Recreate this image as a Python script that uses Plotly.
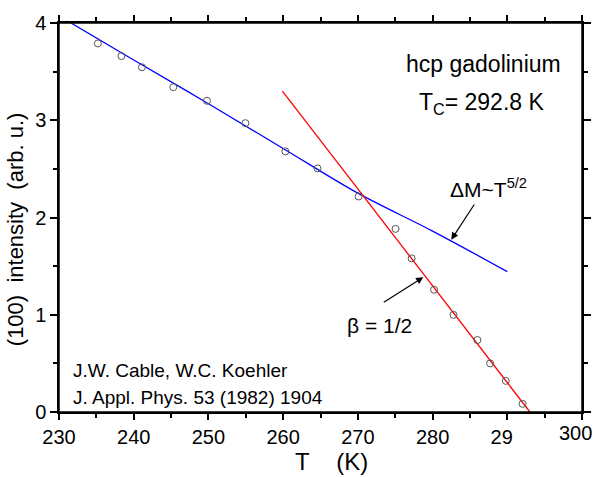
import plotly.graph_objects as go

# ---- data ----
T_data = [235.2, 238.35, 241.1, 245.3, 249.8, 254.95, 260.3, 264.6, 270.1,
          275.05, 277.2, 280.2, 282.8, 286.0, 287.7, 289.8, 292.05]
I_data = [3.79, 3.66, 3.545, 3.34, 3.20, 2.97, 2.68, 2.505, 2.216,
          1.883, 1.58, 1.257, 0.999, 0.74, 0.50, 0.32, 0.084]

T_blue = [231.6, 240, 250, 260, 270, 280, 290]
I_blue = [4.00, 3.62, 3.17, 2.71, 2.25, 1.86, 1.443]

T_red = [259.9, 293.03]
I_red = [3.30, 0.0]

x_tick_vals = [230, 240, 250, 260, 270, 280, 290, 300]
x_tick_labels = ["230", "240", "250", "260", "270", "280", "29\u2007", ""]
x_last_label = "300"
x_minor_vals = [235, 245, 255, 265, 275, 285, 295]
y_tick_vals = [0, 1, 2, 3, 4]
y_tick_labels = ["0", "1", "2", "3", "4"]
y_minor_vals = [0.5, 1.5, 2.5, 3.5]

FONT = "Liberation Sans, Arial, sans-serif"
NB = "\u00a0"

fig = go.Figure()
fig.add_trace(go.Scatter(x=T_blue, y=I_blue, mode="lines", line=dict(color="#0000ff", width=1.3, shape="spline"),
                         hoverinfo="skip", showlegend=False))
fig.add_trace(go.Scatter(x=T_red, y=I_red, mode="lines", line=dict(color="#ff0000", width=1.3),
                         hoverinfo="skip", showlegend=False))
fig.add_trace(go.Scatter(x=T_data, y=I_data, mode="markers",
                         marker=dict(symbol="circle-open", size=7, color="#555555", line=dict(width=1, color="#555555")),
                         showlegend=False))

line_common = dict(showline=True, linecolor="black", linewidth=1.5, showgrid=False, zeroline=False,
                   tickcolor="black", tickwidth=1.5, mirror="allticks")
tickfont = dict(family=FONT, size=20, color="black")

fig.update_layout(
    width=603, height=477, autosize=False,
    margin=dict(l=59, r=12, t=16, b=65),
    plot_bgcolor="white", paper_bgcolor="white",
    font=dict(family=FONT, color="black"),
    xaxis=dict(range=[230, 300], ticks="outside", ticklen=6, tickmode="array",
               tickvals=x_tick_vals, ticktext=x_tick_labels, tickfont=tickfont,
               minor=dict(ticks="outside", ticklen=4, tickvals=x_minor_vals, tickcolor="black", tickwidth=1.5),
               **line_common),
    yaxis=dict(range=[0, 4], ticks="outside", ticklen=7, tickmode="array",
               tickvals=y_tick_vals, ticktext=y_tick_labels, tickfont=tickfont,
               minor=dict(ticks="outside", ticklen=4, tickvals=y_minor_vals, tickcolor="black", tickwidth=1.5),
               **line_common),
)

# plot frame
fig.add_shape(type="rect", xref="paper", yref="paper", x0=0, x1=1, y0=0, y1=1,
              line=dict(color="black", width=1.5), fillcolor="rgba(0,0,0,0)", layer="above")

ann_font = dict(family=FONT, color="black")
annotations = [
    dict(x=286.75, y=3.575, text="hcp gadolinium", font=dict(size=23, **ann_font)),
    dict(x=286.6, y=3.17, text="T<sub>C</sub>= 292.8 K", font=dict(size=23, **ann_font)),
    dict(x=287.5, y=2.30, text="ΔM~T<sup>5/2</sup>", font=dict(size=21, **ann_font)),
    dict(x=272.95, y=0.89, text="β = 1/2", font=dict(size=21, **ann_font)),
    dict(x=231.6, y=0.43, text="J.W. Cable, W.C. Koehler", xanchor="left", font=dict(size=19, **ann_font)),
    dict(x=231.6, y=0.145, text="J. Appl. Phys. 53 (1982) 1904", xanchor="left", font=dict(size=19, **ann_font)),
]
for a in annotations:
    a.setdefault("xanchor", "center")
    fig.add_annotation(xref="x", yref="y", yanchor="middle", showarrow=False, **a)

# last x tick label (sits at the right edge of the page)
fig.add_annotation(x=299.12, xref="x", y=-(434 - 412.3) / 396.3, yref="paper", text=x_last_label,
                   showarrow=False, font=tickfont, xanchor="center", yanchor="middle")

# arrows
fig.add_annotation(x=282.5, y=1.772, xref="x", yref="y", ax=24, ay=-36.7, axref="pixel", ayref="pixel",
                   text="", showarrow=True, arrowhead=2, arrowsize=1.2, arrowwidth=1.2, arrowcolor="black")
fig.add_annotation(x=278.76, y=1.386, xref="x", yref="y", ax=-41, ay=26, axref="pixel", ayref="pixel",
                   text="", showarrow=True, arrowhead=2, arrowsize=1.2, arrowwidth=1.2, arrowcolor="black")

# axis titles
fig.add_annotation(x=(336 - 58.7) / 532, y=-(463 - 412.3) / 396.3, xref="paper", yref="paper",
                   text="T" + NB * 4 + "(K)", showarrow=False, font=dict(size=24, **ann_font),
                   xanchor="center", yanchor="middle")
fig.add_annotation(x=-(58.7 - 14) / 532, y=(412.3 - 226) / 396.3, xref="paper", yref="paper",
                   text="(100)" + NB * 2 + "intensity" + NB * 2 + "(arb. u.)", textangle=-90, showarrow=False,
                   font=dict(size=22, **ann_font), xanchor="center", yanchor="middle")

fig.write_html("out.html", config={"displayModeBar": False},
               post_script="document.body.style.margin='0';document.body.style.padding='0';"
                           "document.body.style.overflow='hidden';")
